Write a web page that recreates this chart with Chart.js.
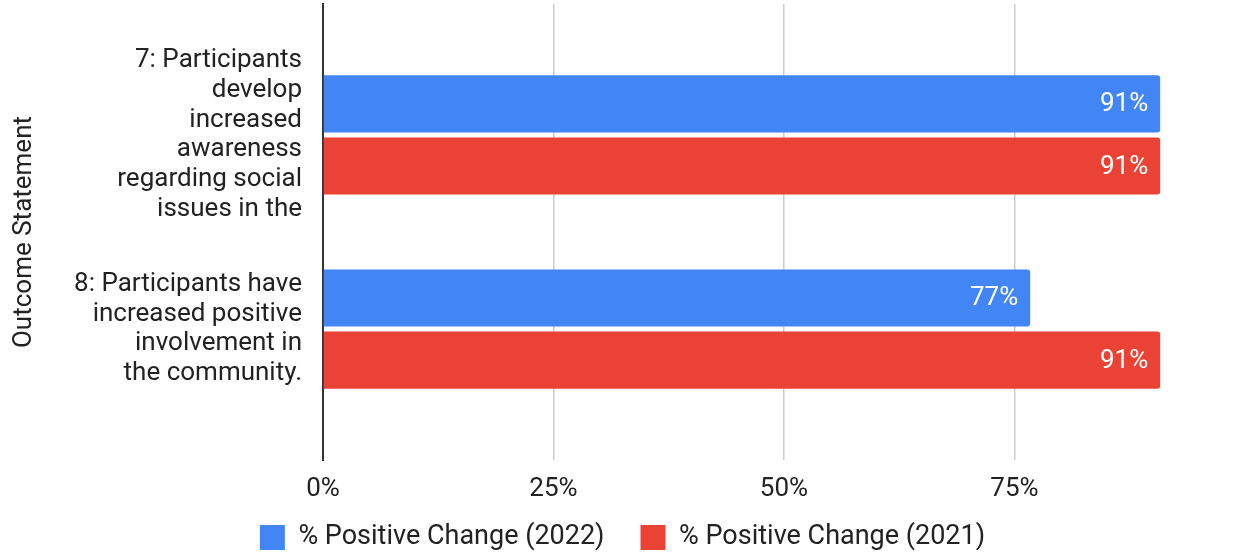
<!DOCTYPE html>
<html>
<head>
<meta charset="utf-8">
<script src="https://cdn.jsdelivr.net/npm/chart.js@4"></script>
<style>
  html, body { margin: 0; padding: 0; background: #fff; overflow: hidden; }
  #wrap { position: absolute; left: 0; top: 0; width: 1250px; height: 553px; }
</style>
</head>
<body>
<div id="wrap"><canvas id="chart"></canvas></div>
<script>
// Kategóriák (tengelyfeliratok, sorokra bontva)
const kategoriak = [
  ['7: Participants', 'develop', 'increased', 'awareness', 'regarding social', 'issues in the'],
  ['8: Participants have', 'increased positive', 'involvement in', 'the community.']
];

// Sorozatok
const sorozatNevek = ['% Positive Change (2022)', '% Positive Change (2021)'];
const ertekek2022 = [0.908, 0.767];
const ertekek2021 = [0.908, 0.908];

// X tengely feliratai
const xTickErtekek = [0, 0.25, 0.5, 0.75];

const szinek = ['#4285F4', '#EA4335'];
const betu = 'Roboto, "Liberation Sans", Arial, sans-serif';
const szovegSzin = '#222222';

// Értékcímkék a sávok végén
const ertekCimkek = {
  id: 'ertekCimkek',
  afterDatasetsDraw(chart) {
    const ctx = chart.ctx;
    ctx.save();
    ctx.font = '26px ' + betu;
    ctx.fillStyle = '#ffffff';
    ctx.textAlign = 'right';
    ctx.textBaseline = 'middle';
    chart.data.datasets.forEach((ds, i) => {
      const meta = chart.getDatasetMeta(i);
      meta.data.forEach((el, j) => {
        ctx.fillText(Math.round(ds.data[j] * 100) + '%', el.x - 12, el.y + 1);
      });
    });
    ctx.restore();
  }
};

// Az x tengely feliratai belelóghatnak a jelmagyarázat felső sávjába
const xFeliratHely = {
  id: 'xFeliratHely',
  afterLayout(chart) {
    const x = chart.scales.x;
    x.bottom = x.top + 60;
    x.height = 60;
  }
};

const adatsorok = [ertekek2022, ertekek2021].map((sor, i) => ({
  label: sorozatNevek[i],
  data: sor,
  backgroundColor: szinek[i],
  borderWidth: 0,
  borderRadius: 3,
  borderSkipped: 'start',
  categoryPercentage: 0.64,
  barPercentage: 0.92
}));

new Chart(document.getElementById('chart'), {
  type: 'bar',
  data: { labels: kategoriak, datasets: adatsorok },
  plugins: [ertekCimkek, xFeliratHely],
  options: {
    indexAxis: 'y',
    responsive: true,
    maintainAspectRatio: false,
    animation: false,
    layout: { padding: { top: 4, right: 5, left: 0, bottom: -8 } },
    scales: {
      x: {
        type: 'linear',
        min: 0,
        max: 1,
        afterBuildTicks: s => { s.ticks = xTickErtekek.map(v => ({ value: v })); },
        afterFit: s => { s.height = 28; s.paddingLeft = 0; s.paddingRight = 0; },
        grid: { color: '#cccccc', lineWidth: 1.5, drawTicks: false },
        border: { display: false },
        ticks: {
          padding: 14,
          color: szovegSzin,
          font: { family: betu, size: 26 },
          callback: v => Math.round(v * 100) + '%'
        }
      },
      y: {
        type: 'category',
        offset: true,
        // a két kategória közé és köré több hely kell, mint a sáv
        afterBuildTicks: s => {
          const tartalek = 0.175;
          s._startValue = -0.5 - tartalek;
          s._valueRange = kategoriak.length + 2 * tartalek;
        },
        afterFit: s => { s.width = 323; s.paddingTop = 0; s.paddingBottom = 0; },
        grid: { display: false },
        border: { display: true, color: '#333333', width: 2 },
        ticks: {
          autoSkip: false,
          padding: 13,
          color: szovegSzin,
          font: { family: betu, size: 26, lineHeight: 1.15 }
        },
        title: {
          display: true,
          text: 'Outcome Statement',
          color: szovegSzin,
          font: { family: betu, size: 26 },
          padding: { top: 9, bottom: 0 }
        }
      }
    },
    plugins: {
      legend: {
        position: 'bottom',
        labels: {
          color: szovegSzin,
          font: { family: betu, size: 27 },
          boxWidth: 25,
          boxHeight: 25,
          padding: 36
        }
      },
      tooltip: { enabled: false }
    }
  }
});
</script>
</body>
</html>
